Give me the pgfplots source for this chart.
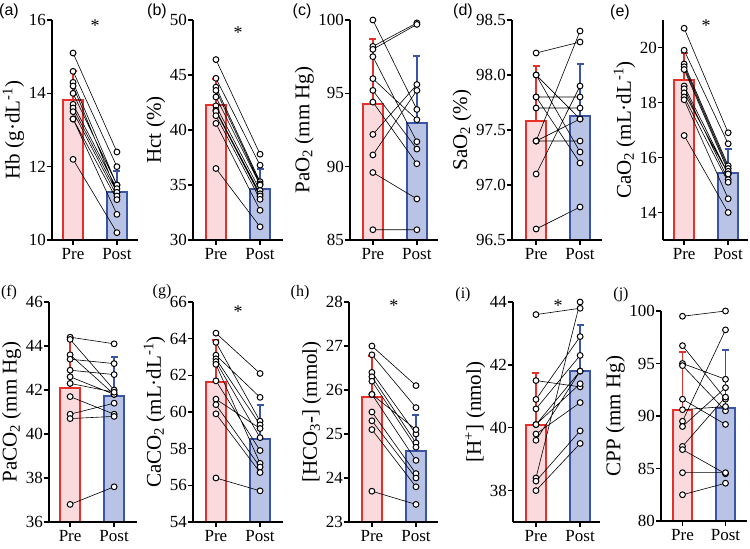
\documentclass[border=0pt]{standalone}
\usepackage{fontspec}
\setmainfont{Liberation Serif}
\newfontfamily\sfarial{Liberation Sans}
\usepackage{pgfplots}
\pgfplotsset{compat=1.18}
\definecolor{prefill}{HTML}{FADADC}
\definecolor{preedge}{HTML}{E8302A}
\definecolor{postfill}{HTML}{B9C3E5}
\definecolor{postedge}{HTML}{3B55A6}
\pgfplotsset{
 panel/.style={
  scale only axis, height=220bp,
  axis lines*=left,
  axis line style={line width=1.8bp, black},
  xtick={0,1}, xticklabels={Pre,Post},
  tick align=outside, major tick length=5bp,
  every tick/.append style={line width=1.5bp, black},
  tick label style={font=\fontsize{17bp}{20bp}\selectfont},
  /pgf/number format/assume math mode=true,
  yticklabel style={inner xsep=1bp},
  ylabel style={font=\fontsize{21bp}{24bp}\selectfont},
  clip=false, axis on top,
  unbounded coords=jump,
 },
 pairline/.style={black, line width=0.6bp, mark=*, mark size=2.9bp,
   mark options={fill=white, draw=black, line width=1bp, solid}},
}
\tikzset{star/.style={anchor=north, inner sep=0pt, font=\fontsize{18bp}{20bp}\selectfont}}
% #1 ymin, #2 pre mean, #3 pre sd, #4 post mean, #5 post sd
\newcommand{\prepost}[5]{%
 \addplot[fill=prefill, draw=preedge, line width=2bp] coordinates {(-0.225,#1) (-0.225,#2) (0.225,#2) (0.225,#1)} -- cycle;
 \addplot[fill=postfill, draw=postedge, line width=2bp] coordinates {(0.775,#1) (0.775,#4) (1.225,#4) (1.225,#1)} -- cycle;
 \addplot[preedge, mark=none, error bars/.cd, y dir=plus, y explicit,
   error bar style={line width=1.8bp, preedge},
   error mark options={rotate=90, mark size=3.5bp, line width=1.8bp, preedge}]
   coordinates {(0,#2) +- (0,#3)};
 \addplot[postedge, mark=none, error bars/.cd, y dir=plus, y explicit,
   error bar style={line width=1.8bp, postedge},
   error mark options={rotate=90, mark size=3.5bp, line width=1.8bp, postedge}]
   coordinates {(1,#4) +- (0,#5)};
}
\begin{document}
\begin{tikzpicture}
\path[use as bounding box] (0,0) rectangle (750bp,549bp);
% (a)
\begin{axis}[panel, at={(52bp,309bp)}, anchor=south west, width=86bp,
  xmin=-0.48, xmax=1.48, ymin=10, ymax=16, ytick={10,12,14,16},
  ylabel={Hb (g·dL\textsuperscript{-1})}]
\prepost{10}{13.82}{0.79}{11.31}{0.58}
\addplot[pairline] coordinates {(0,15.1) (1,12.4) (nan,nan) (0,14.6) (1,12.0) (nan,nan)
 (0,14.3) (1,11.5) (nan,nan) (0,14.2) (1,11.3) (nan,nan) (0,14.0) (1,11.5) (nan,nan)
 (0,13.7) (1,11.4) (nan,nan) (0,13.6) (1,11.3) (nan,nan) (0,13.5) (1,11.2) (nan,nan)
 (0,13.3) (1,11.1) (nan,nan) (0,13.3) (1,10.7) (nan,nan) (0,12.2) (1,10.2)};
\node[star] at (axis cs:0.5,16) {*};
\end{axis}
% (b)
\begin{axis}[panel, at={(193bp,309bp)}, anchor=south west, width=90bp,
  xmin=-0.52, xmax=1.52, ymin=30, ymax=50, ytick={30,35,40,45,50},
  ylabel={Hct (\%)}]
\prepost{30}{42.3}{2.3}{34.6}{1.85}
\addplot[pairline] coordinates {(0,46.4) (1,37.8) (nan,nan) (0,44.7) (1,36.8) (nan,nan)
 (0,43.9) (1,35.3) (nan,nan) (0,43.6) (1,35.1) (nan,nan) (0,43.0) (1,35.0) (nan,nan)
 (0,42.2) (1,34.5) (nan,nan) (0,41.8) (1,34.2) (nan,nan) (0,41.7) (1,34.0) (nan,nan)
 (0,41.3) (1,33.7) (nan,nan) (0,40.6) (1,32.7) (nan,nan) (0,36.5) (1,31.2)};
\node[star] at (axis cs:0.5,49.4) {*};
\end{axis}
% (c)
\begin{axis}[panel, at={(350bp,309bp)}, anchor=south west, width=88bp,
  xmin=-0.52, xmax=1.48, ymin=85, ymax=100, ytick={85,90,95,100},
  ylabel={PaO\textsubscript{2} (mm Hg)}]
\prepost{85}{94.25}{4.45}{93.0}{4.55}
\addplot[pairline] coordinates {(0,100) (1,93.9) (nan,nan) (0,98.2) (1,99.8) (nan,nan)
 (0,98.0) (1,99.7) (nan,nan) (0,97.5) (1,91.7) (nan,nan) (0,96.0) (1,93.2) (nan,nan)
 (0,95.2) (1,91.2) (nan,nan) (0,94.4) (1,90.2) (nan,nan) (0,92.2) (1,95.6) (nan,nan)
 (0,90.8) (1,95.2) (nan,nan) (0,89.6) (1,87.8) (nan,nan) (0,85.7) (1,85.7)};
\end{axis}
% (d)
\begin{axis}[panel, at={(512bp,309bp)}, anchor=south west, width=90bp,
  xmin=-0.55, xmax=1.5, ymin=96.5, ymax=98.5, ytick={96.5,97,97.5,98,98.5},
  yticklabel style={/pgf/number format/.cd, fixed, fixed zerofill, precision=1},
  ylabel={SaO\textsubscript{2} (\%)}]
\prepost{96.5}{97.58}{0.5}{97.63}{0.47}
\addplot[pairline] coordinates {(0,98.2) (1,98.3) (nan,nan) (0,98.0) (1,97.3) (nan,nan)
 (0,98.0) (1,97.6) (nan,nan) (0,97.8) (1,97.8) (nan,nan) (0,97.8) (1,97.2) (nan,nan)
 (0,97.7) (1,97.7) (nan,nan) (0,97.4) (1,97.4) (nan,nan) (0,97.4) (1,98.4) (nan,nan)
 (0,97.4) (1,97.6) (nan,nan) (0,97.1) (1,97.9) (nan,nan) (0,96.6) (1,96.8)};
\end{axis}
% (e)
\begin{axis}[panel, at={(663bp,309bp)}, anchor=south west, width=85bp,
  xmin=-0.48, xmax=1.45, ymin=13, ymax=21, ytick={14,16,18,20},
  ylabel={CaO\textsubscript{2} (mL·dL\textsuperscript{-1})}]
\prepost{13}{18.83}{0.97}{15.45}{0.85}
\addplot[pairline] coordinates {(0,20.7) (1,16.9) (nan,nan) (0,19.9) (1,16.5) (nan,nan)
 (0,19.4) (1,15.7) (nan,nan) (0,19.3) (1,15.6) (nan,nan) (0,19.2) (1,15.5) (nan,nan)
 (0,18.6) (1,15.4) (nan,nan) (0,18.5) (1,15.2) (nan,nan) (0,18.35) (1,15.4) (nan,nan)
 (0,18.2) (1,15.1) (nan,nan) (0,18.1) (1,14.5) (nan,nan) (0,16.8) (1,14.0)};
\node[star] at (axis cs:0.5,21.0) {*};
\end{axis}
% (f)
\begin{axis}[panel, at={(49bp,27bp)}, anchor=south west, width=88bp,
  xmin=-0.48, xmax=1.52, ymin=36, ymax=46, ytick={36,38,40,42,44,46},
  ylabel={PaCO\textsubscript{2} (mm Hg)}]
\prepost{36}{42.1}{2.25}{41.74}{1.76}
\addplot[pairline] coordinates {(0,44.4) (1,44.1) (nan,nan) (0,44.3) (1,42.0) (nan,nan)
 (0,43.6) (1,41.8) (nan,nan) (0,43.4) (1,43.2) (nan,nan) (0,42.9) (1,42.7) (nan,nan)
 (0,42.6) (1,41.8) (nan,nan) (0,42.3) (1,41.9) (nan,nan) (0,41.7) (1,40.9) (nan,nan)
 (0,40.9) (1,41.4) (nan,nan) (0,40.7) (1,40.8) (nan,nan) (0,36.8) (1,37.6)};
\end{axis}
% (g)
\begin{axis}[panel, at={(193bp,27bp)}, anchor=south west, width=90bp,
  xmin=-0.52, xmax=1.52, ymin=54, ymax=66, ytick={54,56,58,60,62,64,66},
  ylabel={CaCO\textsubscript{2} (mL·dL\textsuperscript{-1})}]
\prepost{54}{61.65}{2.29}{58.5}{1.9}
\addplot[pairline] coordinates {(0,64.3) (1,62.1) (nan,nan) (0,63.8) (1,59.5) (nan,nan)
 (0,63.1) (1,60.8) (nan,nan) (0,62.9) (1,59.3) (nan,nan) (0,62.75) (1,58.6) (nan,nan)
 (0,62.6) (1,57.2) (nan,nan) (0,61.7) (1,57.9) (nan,nan) (0,60.7) (1,59.1) (nan,nan)
 (0,60.4) (1,57.0) (nan,nan) (0,59.9) (1,56.7) (nan,nan) (0,56.4) (1,55.7)};
\node[star] at (axis cs:0.5,65.8) {*};
\end{axis}
% (h)
\begin{axis}[panel, at={(349bp,27bp)}, anchor=south west, width=89bp,
  xmin=-0.52, xmax=1.5, ymin=23, ymax=28, ytick={23,24,25,26,27,28},
  ylabel={[HCO\textsubscript{3}-] (mmol)}]
\prepost{23}{25.85}{0.92}{24.62}{0.81}
\addplot[pairline] coordinates {(0,27.0) (1,26.1) (nan,nan) (0,26.8) (1,25.6) (nan,nan)
 (0,26.4) (1,25.0) (nan,nan) (0,26.3) (1,24.8) (nan,nan) (0,26.2) (1,24.7) (nan,nan)
 (0,25.9) (1,25.1) (nan,nan) (0,25.9) (1,24.4) (nan,nan) (0,25.5) (1,24.1) (nan,nan)
 (0,25.3) (1,24.0) (nan,nan) (0,25.1) (1,23.8) (nan,nan) (0,23.7) (1,23.4)};
\node[star] at (axis cs:0.5,28.06) {*};
\end{axis}
% (i)
\begin{axis}[panel, at={(513bp,27bp)}, anchor=south west, width=87bp,
  xmin=-0.52, xmax=1.45, ymin=37, ymax=44, ytick={38,40,42,44},
  ylabel={[H\textsuperscript{+}] (nmol)}]
\prepost{37}{40.1}{1.64}{41.8}{1.48}
\addplot[pairline] coordinates {(0,43.6) (1,43.8) (nan,nan) (0,41.5) (1,41.3) (nan,nan)
 (0,40.9) (1,42.9) (nan,nan) (0,40.6) (1,42.3) (nan,nan) (0,40.1) (1,41.8) (nan,nan)
 (0,40.1) (1,41.4) (nan,nan) (0,39.8) (1,40.8) (nan,nan) (0,39.6) (1,41.8) (nan,nan)
 (0,38.4) (1,44.0) (nan,nan) (0,38.3) (1,39.9) (nan,nan) (0,38.0) (1,39.5)};
\node[star] at (axis cs:0.5,44.08) {*};
\end{axis}
% (j)
\begin{axis}[panel, at={(661bp,28bp)}, anchor=south west, width=86bp, height=210bp,
  xmin=-0.5, xmax=1.5, ymin=80, ymax=100, ytick={80,85,90,95,100},
  ylabel={CPP (mm Hg)}]
\prepost{80}{90.6}{5.5}{90.8}{5.45}
\addplot[pairline] coordinates {(0,99.5) (1,100) (nan,nan) (0,96.7) (1,91.6) (nan,nan)
 (0,95.0) (1,93.5) (nan,nan) (0,94.8) (1,90.5) (nan,nan) (0,91.6) (1,89.2) (nan,nan)
 (0,90.6) (1,90.9) (nan,nan) (0,89.5) (1,98.2) (nan,nan) (0,89.0) (1,92.7) (nan,nan)
 (0,87.1) (1,91.8) (nan,nan) (0,86.8) (1,84.5) (nan,nan) (0,84.6) (1,84.6) (nan,nan)
 (0,82.5) (1,83.6)};
\end{axis}
% panel letters
\begin{scope}[every node/.style={font=\fontsize{16bp}{18bp}\selectfont, inner sep=0pt}]
\node at (9bp,538bp) {\sfarial (a)};
\node at (157bp,538bp) {\sfarial (b)};
\node at (302bp,538bp) {\sfarial (c)};
\node at (463bp,538bp) {\sfarial (d)};
\node at (620bp,537bp) {\sfarial (e)};
\node at (9bp,256bp) {(f)};
\node at (162bp,257bp) {(g)};
\node at (300bp,256bp) {(h)};
\node at (463bp,254bp) {(i)};
\node at (621bp,254bp) {(j)};
\end{scope}
\end{tikzpicture}
\end{document}
